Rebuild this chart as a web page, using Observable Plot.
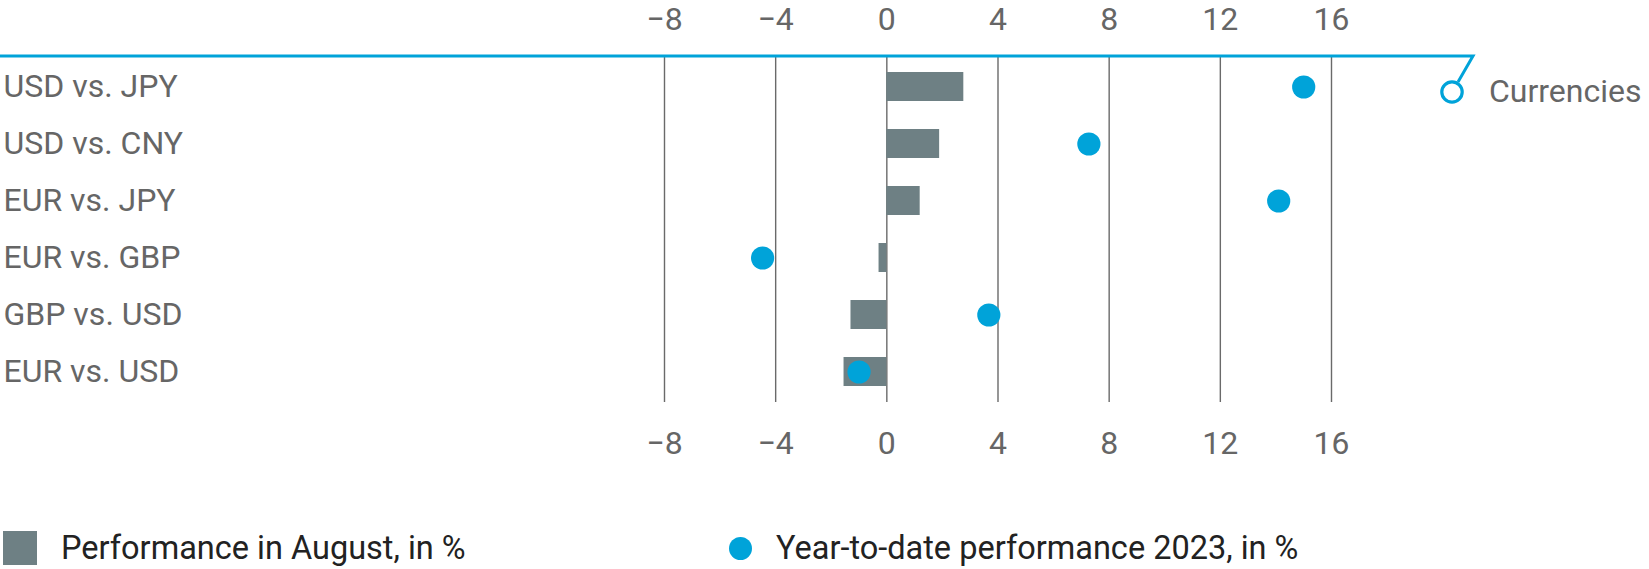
<!DOCTYPE html>
<html>
<head>
<meta charset="utf-8">
<script src="https://cdn.jsdelivr.net/npm/d3@7"></script>
<script src="https://cdn.jsdelivr.net/npm/@observablehq/plot@0.6"></script>
<style>
  html, body { margin: 0; padding: 0; background: #fff; }
  body { width: 1649px; height: 569px; overflow: hidden; font-family: Roboto, "Noto Sans", sans-serif; }
  #chart svg { display: block; }
  #legend { position: relative; height: 89px; }
  .lg-sq { position: absolute; left: 3px; top: 51px; width: 34px; height: 34px; background: #6e8084; }
  .lg-dot { position: absolute; left: 729px; top: 57px; width: 23px; height: 23px; border-radius: 50%; background: #00a3d9; }
  .lg-t { position: absolute; top: 48px; font-size: 32.5px; color: #222; line-height: 40px; }
</style>
</head>
<body>
<div id="chart"></div>
<div id="legend">
  <div class="lg-sq"></div><div class="lg-t" style="left:61px">Performance in August, in %</div>
  <div class="lg-dot"></div><div class="lg-t" style="left:776px">Year-to-date performance 2023, in %</div>
</div>
<script>
const categories = ["USD vs. JPY", "USD vs. CNY", "EUR vs. JPY", "EUR vs. GBP", "GBP vs. USD", "EUR vs. USD"];
const august = [2.77, 1.9, 1.2, -0.28, -1.29, -1.54];
const ytd = [15.0, 7.27, 14.1, -4.47, 3.67, -1.0];
const ticks = [-8, -4, 0, 4, 8, 12, 16];
const groupLabel = "Currencies";

const rows = categories.map((c, i) => ({name: c, august: august[i], ytd: ytd[i]}));
const fmt = d => d < 0 ? "\u2212" + Math.abs(d) : String(d);

const W = 1649, H = 480;
const chart = Plot.plot({
  width: W,
  height: H,
  marginTop: 56,
  marginBottom: 78,
  marginLeft: 0,
  marginRight: 0,
  style: {fontFamily: "Roboto, 'Noto Sans', sans-serif", fontSize: "32px", color: "#666", background: "#fff"},
  x: {domain: [-8, 16], range: [664, 1331]},
  y: {domain: categories, paddingInner: 0.49, paddingOuter: 0.245, align: 0.5, axis: null},
  marks: [
    Plot.ruleX(ticks, {stroke: "#6a6a6a", strokeWidth: 1.4, strokeOpacity: 1}),
    Plot.barX(rows, {y: "name", x1: 0, x2: "august", fill: "#6e8084"}),
    Plot.dot(rows, {y: "name", x: "ytd", r: 11.6, fill: "#00a3d9"}),
    Plot.axisX({anchor: "top", ticks, tickSize: 0, tickPadding: 27, tickFormat: fmt, fill: "#666", fontSize: 32}),
    Plot.axisX({anchor: "bottom", ticks, tickSize: 0, tickPadding: 29, tickFormat: fmt, fill: "#666", fontSize: 32}),
    Plot.text(categories, {y: d => d, text: d => d, frameAnchor: "left", textAnchor: "start", dx: 3, fill: "#666", fontSize: 32}),
    () => {
      const ns = "http://www.w3.org/2000/svg";
      const g = document.createElementNS(ns, "g");
      const p = document.createElementNS(ns, "path");
      p.setAttribute("d", "M0,56H1473L1458,82");
      p.setAttribute("fill", "none");
      p.setAttribute("stroke", "#00a3d9");
      p.setAttribute("stroke-width", "3");
      g.appendChild(p);
      const c = document.createElementNS(ns, "circle");
      c.setAttribute("cx", 1452); c.setAttribute("cy", 92); c.setAttribute("r", 10.2);
      c.setAttribute("fill", "#fff"); c.setAttribute("stroke", "#00a3d9"); c.setAttribute("stroke-width", "3.2");
      g.appendChild(c);
      const t = document.createElementNS(ns, "text");
      t.setAttribute("x", 1489); t.setAttribute("y", 102);
      t.setAttribute("text-anchor", "start");
      t.setAttribute("fill", "#666"); t.setAttribute("font-size", "32");
      t.textContent = groupLabel;
      g.appendChild(t);
      return g;
    }
  ]
});
document.getElementById("chart").appendChild(chart);
</script>
</body>
</html>
